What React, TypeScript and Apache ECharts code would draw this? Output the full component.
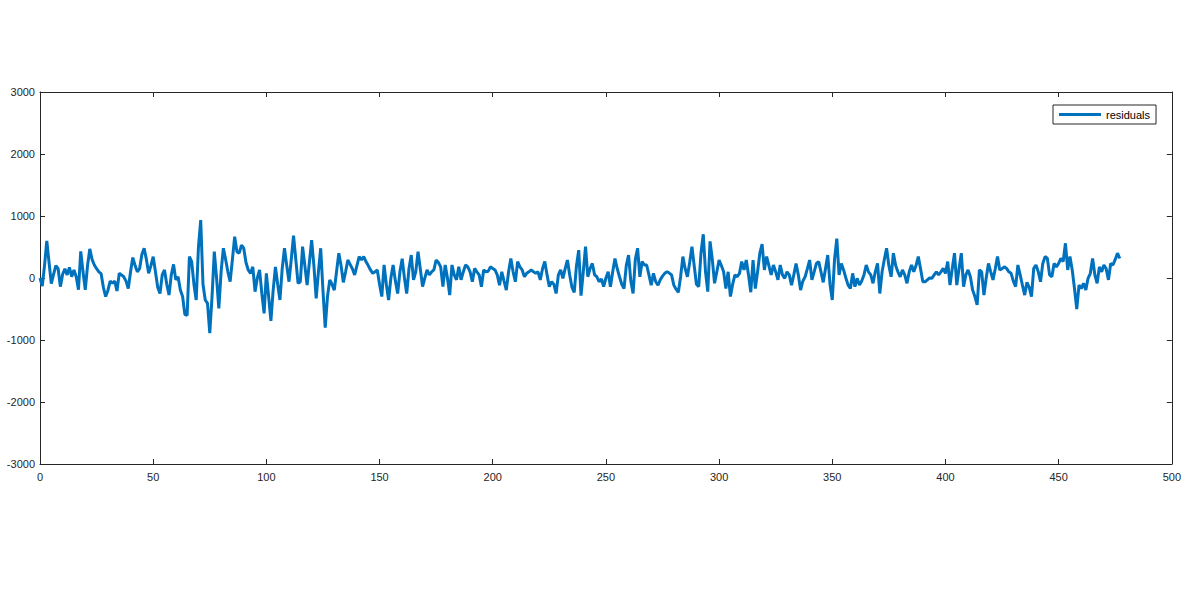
import React, { useEffect, useRef } from "react";
import * as echarts from "echarts";

const xTicks = [0, 50, 100, 150, 200, 250, 300, 350, 400, 450, 500];
const yTicks = [-3000, -2000, -1000, 0, 1000, 2000, 3000];
const seriesName = "residuals";

const residuals0: number[] = [
  0, -130, 200, 600, 250, -90, 60, 200, 150, -140, 60, 150, 50, 170, 20, 130, 20, -190, 430, 100,
  -190, 200, 470, 300, 210, 150, 100, 70, -150, -300, -200, -50, -85, -50, -210, 75, 50, 20, -50, -170,
  100, 330, 200, 100, 150, 380, 480, 300, 75, 200, 345, 100, -150, -250, 50, 130, -100, -275, 50, 220,
  -30, 20, -195, -300, -590, -600, 345, 265, -100, -355, 500, 935, -100, -355, -410, -890, -300, 425, 0, -490,
  100, 480, 300, 100, -60, 300, 665, 425,
];
const residuals1: number[] = [
  400, 530, 480, 250, 130, 75, 180, -220, 0, 130, -250, -570, 75, -300, -690, -200, 180, -100, -355, 150,
  480, 200, -60, 300, 685, 300, -85, -60, 505, 200, -115, 250, 610, 200, -330, 100, 480, -200, -800, -300,
  -30, -100, -195, 100,
];
const residuals2: number[] = [
  400, 200, -70, 100, 290, 220, 150, 50, 200, 345, 290, 345, 265, 200, 130, 75, 100, 130, -100, -300,
  210, -100, -355, 0, 210, -50, -250, 100, 310, 0, -250, 150, 370, -30, 100, 425, 150, -140, 0, 130,
  50, 100, 130, 290,
];
const residuals3: number[] = [
  250, 180, -140, 210, 0, -275, 210, 50, -30, 180, -30, 100, 210, 180, 100, -60, 155, 100, 50, -140,
  130, 100, 110, 180, 155, 130, 50, -115, 100, -50, -195, 100, 315, 100, -60, 265, 180, 130, 20, 75,
  100, 130, 100, 75,
];
const residuals4: number[] = [
  100, -30, 150, 265, 50, -140, -60, -100, -250, 50, 130, -5, 150, 290, 50, -150, -230, 200, 450, -285,
  100, 505, 20, 150, 235, 50, 20, -60, -15, -140, 0, 100, -140, 100, 315, 150, 20, -100, -170, 200,
  370, -50, -250, 300, 480,
];
const residuals5: number[] = [
  20, 265, 210, 210, 50, -115, 75, -60, -115, -30, 30, 75, 100, 80, 50, -115, -180, -230, 20, 345,
  150, 20, 250, 505, 200, -100, -140, 400, 705, 100, -220, 590, 300, -85, 100, 290, 200, 100, -170, 100,
  -300, -100, 50, 20,
];
const residuals6: number[] = [
  75, 265, 130, 290, 50, -230, 290, -170, 100, 400, 545, 130, 345, 200, 50, 210, 100, -30, 210, 50,
  -5, 100, 50, -115, 50, 235, 50, -195, -50, 20, 150, 290, -30, 100, 235, 265, 100, -70, 150, 370,
  -100, -355, 300, 635,
];
const residuals7: number[] = [
  50, 235, 130, 0, -115, -170, 75, -140, -5, -115, -50, 50, 210, 100, 50, -85, 100, 235, -250, 100,
  300, 480, 200, 20, 400, 200, 100, 20, 130, 50, -85, 100, 210, 100, 200, 345, 150, -60, -60, -30,
  0, -5, 50, 100,
];
const residuals8: number[] = [
  50, 100, 155, 75, 265, -115, 150, 400, -115, 150, 400, -140, 50, 130, 20, -195, -300, -435, 130, 100,
  -275, 0, 235, 100, -30, 150, 345, 130, 150, 180, 155, 100, 75, -50, -140, 210, 50, -115, -275, -70,
  -150, -300, 155, 210,
];
const residuals9: number[] = [
  100, -60, 235, 345, 320, 50, 20, 235, 180, 235, 315, 265, 560, 130, 345, 130, -170, -500, -115, -170,
  -85, -195, -5, 75, 315, 50, -85, 180, 100, 210, 150, -30, 235, 210, 300, 400, 315,
];

const residuals = [
  ...residuals0, ...residuals1, ...residuals2, ...residuals3, ...residuals4,
  ...residuals5, ...residuals6, ...residuals7, ...residuals8, ...residuals9,
];

export default function App() {
  const ref = useRef<HTMLDivElement>(null);
  useEffect(() => {
    if (!ref.current) return;
    const chart = echarts.init(ref.current, null, { renderer: "svg" });
    const axisColor = "#262626";
    const font = "'Liberation Sans', Arial, sans-serif";
    const data = residuals.map((v, i) => [i, v]);
    const plain = (v: number) => String(v);
    const xBase = {
      type: "value",
      min: xTicks[0],
      max: xTicks[xTicks.length - 1],
      interval: 50,
      splitLine: { show: false },
      axisLine: { show: true, onZero: false, lineStyle: { color: axisColor, width: 1 } },
      axisTick: { show: true, inside: true, length: 5, lineStyle: { color: axisColor } },
    };
    const yBase = {
      type: "value",
      min: yTicks[0],
      max: yTicks[yTicks.length - 1],
      interval: 1000,
      splitLine: { show: false },
      axisLine: { show: true, onZero: false, lineStyle: { color: axisColor, width: 1 } },
      axisTick: { show: true, inside: true, length: 5, lineStyle: { color: axisColor } },
    };
    chart.setOption({
      animation: false,
      backgroundColor: "#ffffff",
      grid: { left: 40, right: 12, top: 92, bottom: 125, containLabel: false },
      legend: {
        left: 1053,
        top: 105,
        padding: [4, 6, 4, 6],
        itemWidth: 42,
        itemHeight: 3,
        itemGap: 4,
        icon: "rect",
        borderColor: axisColor,
        borderWidth: 1,
        backgroundColor: "#ffffff",
        textStyle: { color: "#000", fontSize: 11, fontFamily: font },
        data: [seriesName],
      },
      xAxis: [
        {
          ...xBase,
          position: "bottom",
          axisLabel: { show: true, color: axisColor, fontSize: 11, fontFamily: font, margin: 7, formatter: plain },
        },
        { ...xBase, position: "top", axisLabel: { show: false } },
      ],
      yAxis: [
        {
          ...yBase,
          position: "left",
          axisLabel: { show: true, color: axisColor, fontSize: 11, fontFamily: font, margin: 5, formatter: plain },
        },
        { ...yBase, position: "right", axisLabel: { show: false } },
      ],
      series: [
        {
          name: seriesName,
          type: "line",
          data,
          xAxisIndex: 0,
          yAxisIndex: 0,
          showSymbol: false,
          symbol: "none",
          lineStyle: { color: "#0072BD", width: 3 },
          itemStyle: { color: "#0072BD" },
        },
      ],
    });
    return () => chart.dispose();
  }, []);
  return (
    <div
      ref={ref}
      style={{ position: "fixed", left: 0, top: 0, width: 1184, height: 589, background: "#fff" }}
    />
  );
}
